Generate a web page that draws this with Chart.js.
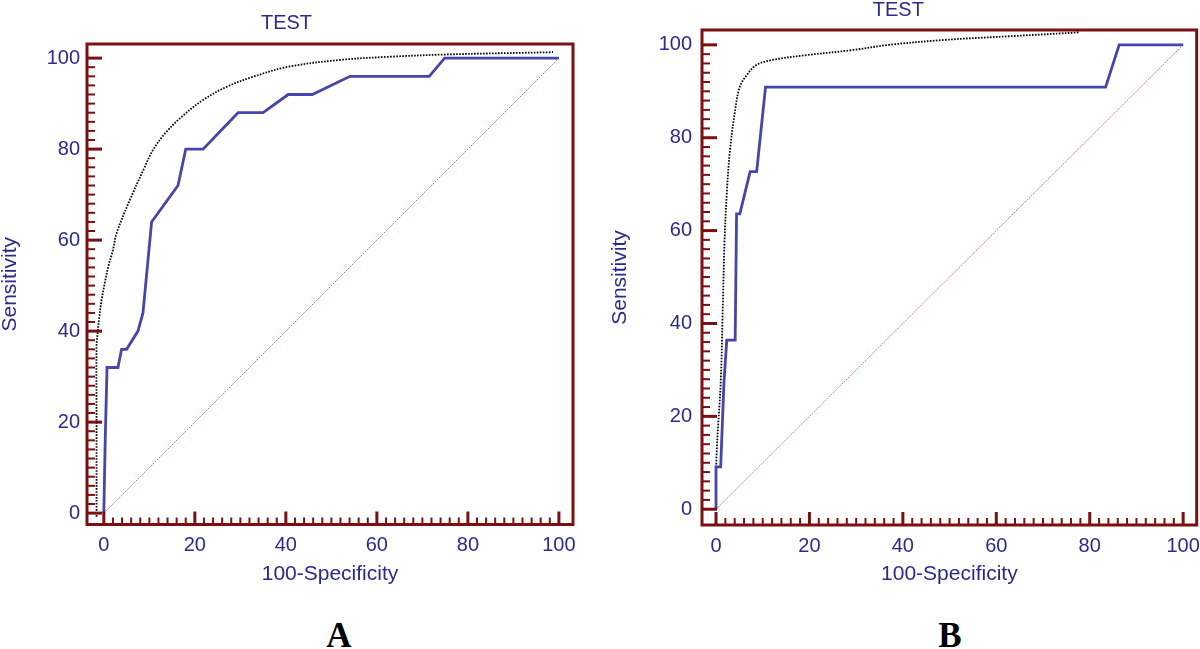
<!DOCTYPE html>
<html>
<head>
<meta charset="utf-8">
<script src="https://cdn.jsdelivr.net/npm/chart.js@4"></script>
<style>
  body { margin: 0; background: #fff; width: 1200px; height: 649px; overflow: hidden; position: relative; }
  .panel { position: absolute; top: 0; width: 600px; height: 600px; }
  .tag { position: absolute; top: 616px; width: 100px; text-align: center; line-height: 1;
         font: bold 35px "Liberation Serif", "Times New Roman", serif; color: #000; }
</style>
</head>
<body>
<div class="panel" style="left:0"><canvas id="rocA"></canvas></div>
<div class="panel" style="left:600px"><canvas id="rocB"></canvas></div>
<div class="tag" style="left:289px">A</div>
<div class="tag" style="left:900px">B</div>
<script>
// axis ticks (both axes, both panels)
const tickValues = [0, 20, 40, 60, 80, 100]
const minorStep = 2

// panel A: empirical ROC curve
const rocA_x = [0, 0.3, 0.7, 3.1, 3.9, 5.0, 7.5, 8.6, 10.5, 16.3, 18.0, 21.8, 29.5, 35.0, 40.5, 45.8, 54.1, 71.5, 74.9, 100]
const rocA_y = [0, 16, 32, 32, 36, 36, 40, 44, 64, 72, 80, 80, 88, 88, 92, 92, 96, 96, 100, 100]
// panel A: dotted curve
const boundA_x = [-1.6, -1.6, -1.6, -1.3, -1.0, -0.5, 0.2, 0.95, 2.0, 2.8, 5.7, 9.0, 10.8, 13.4, 17.1, 21.8, 27.0, 32.8, 40.5, 51.9, 62.9, 75.3, 98.7]
const boundA_y = [-0.8, 20, 36.6, 40.2, 43.1, 46.8, 50.5, 54.1, 57.8, 61.5, 68.8, 76.1, 79.8, 83.4, 87.1, 90.8, 93.7, 95.9, 98.1, 99.6, 100.3, 100.8, 101.3]

// panel B: empirical ROC curve
const rocB_x = [0, 0, 1.0, 1.7, 2.3, 4.1, 4.4, 5.1, 7.3, 8.7, 10.6, 83.4, 86.3, 100]
const rocB_y = [0, 9.1, 9.1, 27.3, 36.4, 36.4, 63.6, 63.6, 72.7, 72.7, 90.9, 90.9, 100, 100]
// panel B: dotted curve
const boundB_x = [0, 0.1, 1.0, 1.4, 1.8, 2.3, 3.0, 4.1, 5.1, 6.6, 8.7, 12.3, 19.4, 29.4, 37.0, 49.4, 63.6, 77.9]
const boundB_y = [0, 11.3, 27.2, 41.4, 57, 68, 77.4, 86, 91, 93.5, 95.7, 96.8, 97.8, 98.9, 100, 101.1, 101.9, 102.7]

// reference line
const diag_x = [0, 100]
const diag_y = [0, 100]

const navy = '#2a2a8c'
const maroon = '#7a1010'
const sans = '"Liberation Sans", Arial, sans-serif'

const pts = (xs, ys) => xs.map((x, i) => ({ x: x, y: ys[i] }))

// frame + inward tick marks, placed with the chart's own scales
const framePlugin = {
    id: 'frame',
    afterDraw(chart) {
        const { ctx, chartArea: a, scales: { x, y } } = chart
        ctx.save()
        ctx.strokeStyle = maroon
        for (let v = tickValues[0]; v <= tickValues[tickValues.length - 1]; v += minorStep) {
            const major = tickValues.includes(v)
            ctx.lineWidth = major ? 3 : 2
            const py = y.getPixelForValue(v)
            ctx.beginPath()
            ctx.moveTo(a.left, py)
            ctx.lineTo(a.left + (major ? 15 : 8), py)
            ctx.stroke()
            const px = x.getPixelForValue(v)
            ctx.beginPath()
            ctx.moveTo(px, a.bottom)
            ctx.lineTo(px, a.bottom - (major ? 13 : 7))
            ctx.stroke()
        }
        ctx.lineWidth = 3
        ctx.strokeRect(a.left, a.top, a.right - a.left, a.bottom - a.top)
        ctx.restore()
    }
}

function makeRoc(id, roc, bound, box) {
    const setTicks = s => { s.ticks = tickValues.map(v => ({ value: v })) }
    const noPad = s => { s.paddingLeft = 0; s.paddingRight = 0; s.paddingTop = 0; s.paddingBottom = 0 }
    return new Chart(document.getElementById(id), {
        type: 'line',
        data: {
            datasets: [
                { data: roc, borderColor: '#4545aa', borderWidth: 2.8, tension: 0 },
                { data: bound, borderColor: '#000', borderWidth: 1.8, borderDash: [1.6, 1.4], tension: 0.35 },
                { data: pts(diag_x, diag_y), borderColor: 'rgba(205,110,110,0.9)', borderWidth: 1, borderDash: [2, 1], tension: 0 }
            ]
        },
        options: {
            responsive: true,
            maintainAspectRatio: false,
            animation: false,
            elements: { point: { radius: 0 } },
            layout: { padding: { left: 0, right: box.padRight, top: 0, bottom: 0 } },
            plugins: {
                legend: { display: false },
                tooltip: { enabled: false },
                title: {
                    display: true,
                    text: 'TEST',
                    color: navy,
                    font: { family: sans, size: 20, weight: 'normal', lineHeight: 1 },
                    padding: { top: box.titleTop, bottom: box.titleBottom }
                }
            },
            scales: {
                x: {
                    type: 'linear',
                    min: box.xMin,
                    max: box.xMax,
                    afterBuildTicks: setTicks,
                    afterFit: s => { s.height = box.xAxisH; noPad(s) },
                    grid: { display: false, drawTicks: false },
                    border: { display: false },
                    ticks: { color: navy, font: { family: sans, size: 20 }, padding: 9, maxRotation: 0, autoSkip: false },
                    title: { display: true, text: '100-Specificity', color: navy, font: { family: sans, size: 21 }, padding: { top: 0, bottom: 13 } }
                },
                y: {
                    type: 'linear',
                    min: box.yMin,
                    max: box.yMax,
                    afterBuildTicks: setTicks,
                    afterFit: s => { s.width = box.yAxisW; noPad(s) },
                    grid: { display: false, drawTicks: false },
                    border: { display: false },
                    ticks: { color: navy, font: { family: sans, size: 20 }, padding: box.yTickPad, autoSkip: false },
                    title: { display: true, text: 'Sensitivity', color: navy, font: { family: sans, size: 21, lineHeight: 1 }, padding: { top: box.yTitlePad, bottom: 0 } }
                }
            }
        },
        plugins: [framePlugin]
    })
}

makeRoc('rocA', pts(rocA_x, rocA_y), pts(boundA_x, boundA_y),
    { xMin: -3.7, xMax: 103.1, yMin: -2.5, yMax: 103.1, titleTop: 13, titleBottom: 11,
      yAxisW: 87, padRight: 27, xAxisH: 75.5, yTickPad: 7, yTitlePad: 0 })

makeRoc('rocB', pts(rocB_x, rocB_y), pts(boundB_x, boundB_y),
    { xMin: -3.0, xMax: 102.9, yMin: -3.4, yMax: 103.2, titleTop: 0, titleBottom: 10,
      yAxisW: 102, padRight: 3.3, xAxisH: 75, yTickPad: 10, yTitlePad: 10 })
</script>
</body>
</html>
